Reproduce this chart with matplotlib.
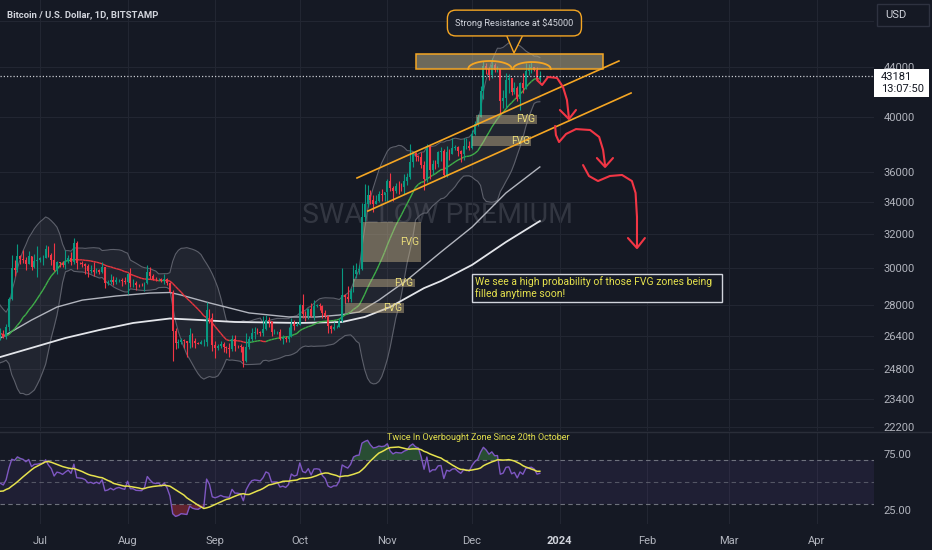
import numpy as np
import pandas as pd
import matplotlib
matplotlib.use("Agg")
import matplotlib.pyplot as plt
import matplotlib.dates as mdates
from matplotlib.collections import LineCollection
from matplotlib.patches import Rectangle, Polygon
from matplotlib.ticker import NullLocator
from matplotlib import font_manager as fm

plt.rcParams['font.family'] = ['Roboto', 'DejaVu Sans']

W, H = 932, 550

# ---------------- data ----------------
# closes before the visible window, only used to seed the SMA / Bollinger / RSI
warmup_start = "2023-05-15"
warmup_close = [27170, 27030, 27400, 26830, 26890, 27120, 26750, 26850, 27230, 26330,
                26480, 26720, 26870, 28080, 27750, 27700, 27220,
                26820, 27250, 27070, 27120, 25740, 27240, 26350, 26500, 26480,
                25850, 25940, 25900, 25920, 25120, 25580, 26330]

# visible daily candles 2023-06-17 .. 2023-12-25 (open = previous close)
close = [
    26510, 26340, 26840, 28310, 30000, 29890, 30690, 30550, 30470, 30270, 30690, 30080, 30450, 30480,
    30590, 30620, 31150, 30770, 30510, 29900, 30350, 30290, 30170, 30410, 30620, 30390, 31470, 30320,
    30290, 30250, 30140, 29860, 29910, 29800, 29910, 29800, 30080, 29180, 29230, 29350, 29210, 29320,
    29360, 29280, 29230,
    29680, 29180, 29180, 29070, 29060, 29050, 29190, 29770, 29580, 29430, 29400, 29420, 29290, 29410,
    29170, 28700, 26620, 26050, 26100, 26190, 26120, 26040, 26430, 26160, 26050, 26010, 26090, 26100,
    27720, 27300, 25930,
    25800, 25870, 25970, 25820, 25780, 25750, 26240, 25900, 25890, 25830, 25160, 25840, 26230, 26540,
    26600, 26570, 26530, 26760, 27210, 27130, 26570, 26580, 26580, 26250, 26300, 26220, 26370, 27020,
    26910, 26970,
    27990, 27500, 27430, 27790, 27410, 27950, 27970, 27940, 27580, 27390, 26870, 26760, 26860, 26860,
    27150, 28520, 28410, 28330, 28720, 29680, 29920, 29990, 33090, 33900, 34500, 34150, 33910, 34090,
    34540, 34500, 34670,
    35440, 34940, 34730, 35080, 35050, 35040, 35430, 35650, 36700, 37310, 37130, 37060, 36490, 35550,
    37880, 36160, 36600, 36590, 37390, 37470, 35810, 37420, 37290, 37730, 37800, 37480, 37240, 37830,
    37860, 37710,
    38690, 39470, 39980, 41980, 44080, 43770, 43290, 44170, 43720, 43790, 41240, 41490, 42890, 43020,
    41940, 42260, 41360, 42660, 42270, 43660, 43860, 43990, 43740, 43010, 43181]
high = [
    26770, 26700, 26990, 28400, 30800, 30500, 31400, 30800, 31050, 30650, 31000, 30700, 30820, 31280,
    30660, 30800, 31380, 31320, 30890, 31500, 30440, 30380, 30430, 31040, 30780, 30970, 31800, 31630,
    30390, 30440, 30320, 30230, 30180, 30390, 30050, 29980, 30340, 30100, 29370, 29680, 29570, 29530,
    29410, 29450, 29530,
    29730, 30000, 29400, 29310, 29110, 29170, 29240, 30220, 30100, 29700, 29540, 29450, 29460, 29660,
    29450, 29220, 28770, 26810, 26260, 26290, 26250, 26140, 26790, 26540, 26300, 26090, 26170, 26230,
    28140, 27760, 27580,
    26140, 25980, 26130, 26100, 25880, 26030, 26430, 26420, 25940, 26000, 25880, 26540, 26390, 26800,
    26830, 26770, 26620, 27410, 27480, 27380, 27150, 26730, 26630, 26720, 26430, 26380, 26830, 27280,
    27200, 27100,
    28060, 28580, 27660, 27830, 28120, 28280, 28040, 28100, 27990, 27730, 27480, 26950, 27100, 26970,
    27280, 30000, 28600, 28990, 28920, 30190, 30330, 30210, 33990, 35200, 35130, 34800, 34470, 34480,
    34750, 34850, 34710,
    35580, 35980, 35050, 35250, 35400, 35270, 35890, 35960, 37960, 37520, 37420, 37230, 37410, 36750,
    37980, 37900, 36850, 36840, 37500, 37760, 37650, 37870, 37650, 38420, 37900, 37830, 37570, 38390,
    38430, 38170,
    38980, 39670, 40200, 42400, 44480, 44300, 44000, 44700, 44340, 44050, 43800, 42100, 43430, 43420,
    43090, 42700, 42430, 42750, 43480, 44290, 44230, 44370, 44000, 43950, 43600]
low = [
    26180, 26280, 26260, 26660, 28280, 29590, 29810, 30260, 30300, 29900, 30230, 29890, 30040, 29520,
    30340, 30170, 30600, 30650, 30210, 29880, 29710, 30060, 30060, 29960, 30290, 30220, 30240, 29970,
    30250, 30080, 29690, 29530, 29760, 29580, 29740, 29660, 29750, 28890, 29070, 29110, 29090, 29130,
    29260, 29040, 29110,
    28600, 28980, 28960, 28800, 28960, 28990, 28720, 29110, 29400, 29350, 29290, 29370, 29260, 29130,
    29070, 28690, 25170, 25770, 25810, 26000, 25810, 25350, 25800, 25860, 25780, 25980, 25970, 25880,
    25910, 27030, 25670,
    25330, 25720, 25800, 25610, 25560, 25380, 25630, 25650, 25800, 25600, 24900, 25130, 25770, 26130,
    26240, 26480, 26410, 26400, 26670, 26860, 26370, 26510, 26500, 26190, 25990, 26100, 26110, 26340,
    26680, 26890,
    26960, 27320, 27170, 27240, 27360, 27190, 27860, 27720, 27300, 27300, 26560, 26560, 26690, 26810,
    26820, 27110, 28120, 28150, 28160, 28710, 29480, 29700, 29890, 32840, 33700, 33880, 33400, 33870,
    34050, 34100, 34080,
    34120, 34750, 34100, 34600, 34550, 34760, 34530, 35130, 35540, 36350, 36750, 36780, 36310, 34780,
    35370, 35520, 35890, 36210, 36400, 36750, 35660, 35650, 36880, 37260, 37590, 37150, 36720, 36880,
    37600, 37530,
    37630, 38650, 39300, 39970, 41410, 43350, 42900, 43080, 43580, 43580, 40230, 40680, 40650, 41830,
    41680, 41770, 41250, 40530, 41820, 42200, 43310, 43440, 43600, 42800, 42760]
last_price = 43181

# long moving averages
ma_light_dates = ['2023-06-17', '2023-06-28', '2023-07-07', '2023-07-16', '2023-07-28', '2023-08-09',
                  '2023-08-16', '2023-08-20', '2023-08-30', '2023-09-13', '2023-09-27', '2023-10-07',
                  '2023-10-15', '2023-10-22', '2023-10-29', '2023-11-08', '2023-11-20', '2023-12-01',
                  '2023-12-13', '2023-12-25']
ma_light = [26290, 27200, 27880, 28250, 28470, 28630, 28660, 28520, 28100, 27570, 27360, 27360,
            27460, 27620, 28250, 29350, 30950, 32450, 34620, 36370]
ma_white_dates = ['2023-06-17', '2023-06-28', '2023-07-10', '2023-07-22', '2023-08-03', '2023-08-16',
                  '2023-08-27', '2023-09-08', '2023-10-01', '2023-10-16', '2023-10-24', '2023-11-02',
                  '2023-11-14', '2023-11-20', '2023-12-01', '2023-12-13', '2023-12-25']
ma_white = [25360, 25800, 26290, 26690, 27050, 27280, 27200, 27100, 27050, 27100, 27360, 27880,
            28900, 29290, 30200, 31540, 32820]

# FVG zones (days after 1 Jul 2023, prices)
fvg_start = [114.4, 110.8, 108.0, 154.4, 153.0]
fvg_end = [134.9, 132.8, 128.9, 176.0, 173.9]
fvg_low = [30370, 28960, 27570, 39460, 37845]
fvg_high = [32760, 29400, 28100, 40137, 38570]

price_ticks = [22200, 23400, 24800, 26400, 28000, 30000, 32000, 34000, 36000, 40000, 44000]
month_starts = ['2023-07-01', '2023-08-01', '2023-09-01', '2023-10-01', '2023-11-01',
                '2023-12-01', '2024-01-01', '2024-02-01', '2024-03-01', '2024-04-01']
month_labels = ['Jul', 'Aug', 'Sep', 'Oct', 'Nov', 'Dec', '2024', 'Feb', 'Mar', 'Apr']

# ---------------- colours ----------------
bg = '#151924'
grid = '#222632'
txt = '#b2b5be'
up_col = '#089981'
dn_col = '#f23645'
orange = '#f5a623'
red_draw = '#f23645'

# ---------------- indicators ----------------
all_close = pd.Series(warmup_close + close, dtype=float)
all_dates = pd.date_range(warmup_start, periods=len(all_close), freq='D')
ax_all = mdates.date2num(all_dates)
nw = len(warmup_close)
xs = ax_all[nw:]

basis = all_close.rolling(20).mean()
dev = all_close.rolling(20).std(ddof=0)
bb_up = basis + 2 * dev
bb_lo = basis - 2 * dev

delta = all_close.diff()
gain = delta.clip(lower=0).ewm(alpha=1 / 14, adjust=False).mean()
loss = (-delta.clip(upper=0)).ewm(alpha=1 / 14, adjust=False).mean()
rsi = 100 - 100 / (1 + gain / loss)
rsi_ma = rsi.rolling(14).mean()

base_num = mdates.date2num(pd.Timestamp('2023-07-01'))


def t(days):
    return base_num + days


# ---------------- figure ----------------
fig = plt.figure(figsize=(W / 100, H / 100), dpi=100, facecolor=bg)
ax = fig.add_axes([0, 119 / H, 874 / W, 431 / H])
ax2 = fig.add_axes([0, 26 / H, 874 / W, 92 / H])
for a in (ax, ax2):
    a.set_facecolor(bg)
    for s in a.spines.values():
        s.set_visible(False)
    a.set_axisbelow(True)

month_x = mdates.date2num(pd.to_datetime(month_starts))

# main pane
ax.set_yscale('log')
ax.set_xlim(t(-14.164), t(295.33))
ax.set_ylim(22036, 49925)
ax.yaxis.tick_right()
ax.set_yticks(price_ticks)
ax.set_yticklabels([str(v) for v in price_ticks])
ax.yaxis.set_minor_locator(NullLocator())
ax.set_xticks(month_x)
ax.tick_params(axis='y', length=0, pad=7, colors=txt, labelsize=8)
ax.tick_params(axis='x', length=0, labelbottom=False)
ax.grid(True, color=grid, lw=0.8)
ax.axhline(48000, color=grid, lw=0.8, zorder=0)

# watermark
names = {f.name for f in fm.fontManager.ttflist}
if 'Liberation Sans Narrow' in names:
    wm_font, wm_size = 'Liberation Sans Narrow', 24.5
else:
    wm_font, wm_size = 'Roboto', 20.5
ax.text(0.5, 0.5, 'SWALLOW PREMIUM', transform=ax.transAxes, ha='center', va='center',
        fontsize=wm_size, family=[wm_font, 'DejaVu Sans'], color='#787b86', alpha=0.3, zorder=0.5)

# bollinger bands
ax.fill_between(ax_all, bb_lo, bb_up, color='#787b86', alpha=0.13, lw=0, zorder=1)
ax.plot(ax_all, bb_up, color='#5d606b', lw=0.8, zorder=1.5)
ax.plot(ax_all, bb_lo, color='#5d606b', lw=0.8, zorder=1.5)

# basis line coloured by slope
pts = np.column_stack([ax_all, basis.values])
segs, cols = [], []
for i in range(1, len(pts)):
    if np.isnan(pts[i - 1, 1]):
        continue
    segs.append([pts[i - 1], pts[i]])
    cols.append('#3fae49' if pts[i, 1] >= pts[i - 1, 1] else '#e8363f')
ax.add_collection(LineCollection(segs, colors=cols, linewidths=1.0, zorder=3.2))

# long MAs
ax.plot(mdates.date2num(pd.to_datetime(ma_light_dates)), ma_light, color='#b2b5be', lw=1.0, zorder=3)
ax.plot(mdates.date2num(pd.to_datetime(ma_white_dates)), ma_white, color='#e3e5ea', lw=1.3, zorder=3)

# candles
c = np.array(close, dtype=float)
o = np.array([warmup_close[-1]] + close[:-1], dtype=float)
hi = np.maximum(np.array(high, dtype=float), np.maximum(o, c))
lo = np.minimum(np.array(low, dtype=float), np.minimum(o, c))
colors = [up_col if cc >= oo else dn_col for oo, cc in zip(o, c)]
ax.vlines(xs, lo, hi, colors=colors, lw=0.8, zorder=4)
ax.bar(xs, np.abs(c - o), bottom=np.minimum(o, c), width=0.66, color=colors, lw=0, zorder=4.1)

# last price line
ax.axhline(last_price, color='#c8cad0', lw=0.9, ls=(0, (1, 1.6)), zorder=4.5)

# FVG zones
for s0, s1, lo_, hi_ in zip(fvg_start, fvg_end, fvg_low, fvg_high):
    ax.add_patch(Rectangle((t(s0), lo_), s1 - s0, hi_ - lo_, facecolor='#c8b48a', alpha=0.45,
                           lw=0, zorder=5))
    ax.text(t(s1 - 0.5), np.sqrt(lo_ * hi_), 'FVG', ha='right', va='center', fontsize=7.3,
            color='#eadc7a', zorder=5.5)

# channel
ax.plot([t(112.25), t(205.0)], [35615, 44468], color=orange, lw=1.2, zorder=5.2)
ax.plot([t(116.1), t(209.3)], [33450, 41848], color=orange, lw=1.2, zorder=5.2)

# resistance zone
ax.add_patch(Rectangle((t(133.1), 43800), 199.4 - 133.1, 45060 - 43800, facecolor='#b5ac8a',
                       alpha=0.55, edgecolor='none', zorder=5.3))
ax.add_patch(Rectangle((t(133.1), 43800), 199.4 - 133.1, 45060 - 43800, facecolor='none',
                       edgecolor=orange, lw=1.1, zorder=5.4))

# double top arcs
for d0, d1, peak in [(151.6, 167.1, 44470), (167.5, 180.9, 44380)]:
    tt = np.linspace(-1, 1, 60)
    mid, half = (d0 + d1) / 2, (d1 - d0) / 2
    yy = np.exp(np.log(43800) + (np.log(peak) - np.log(43800)) * np.sqrt(1 - tt ** 2))
    ax.plot(t(mid + half * tt), yy, color=orange, lw=1.3, zorder=5.6)

# callout
ax.text(t(168.0), 47790, 'Strong Resistance at $45000', ha='center', va='center', fontsize=6.7,
        color='#d1d4dc', zorder=6,
        bbox=dict(boxstyle='round,pad=0.85,rounding_size=0.9', fc='#1a1e29', ec=orange, lw=1.0))
tail = [(t(165.4), 46560), (t(167.85), 45150), (t(170.7), 46560)]
ax.add_patch(Polygon(tail, closed=True, fc='#1a1e29', ec='none', zorder=6.1))
ax.plot([p[0] for p in tail], [p[1] for p in tail], color=orange, lw=1.0, zorder=6.2)

# hand drawn arrows
arrows = [
    ([(176.0, 42890), (177.8, 42490), (179.9, 43140), (183.1, 43060), (185.2, 42330),
      (186.6, 41300), (187.3, 39910)],
     [(184.1, 40520), (187.3, 39830), (189.8, 40520)]),
    ([(182.4, 39310), (182.7, 38640), (183.8, 38130), (186.3, 38720), (189.8, 39080),
      (194.8, 39010), (198.0, 38500), (199.4, 37560), (200.1, 36500)],
     [(197.2, 36990), (200.1, 36370), (202.9, 36990)]),
    ([(192.3, 36500), (194.4, 35750), (197.6, 35410), (201.8, 35750), (206.1, 35820),
      (209.6, 35410), (210.9, 34620), (211.4, 33080), (211.4, 31240)],
     [(208.2, 31780), (211.4, 31180), (214.2, 31780)]),
]
for path, head in arrows:
    ax.plot([t(p[0]) for p in path], [p[1] for p in path], color=red_draw, lw=1.5,
            solid_capstyle='round', solid_joinstyle='round', zorder=6)
    ax.plot([t(p[0]) for p in head], [p[1] for p in head], color=red_draw, lw=1.5,
            solid_capstyle='round', solid_joinstyle='round', zorder=6)

# note box
ax.add_patch(Rectangle((t(153.0), 28150), 241.5 - 153.0, 29680 - 28150, fc=bg, ec='#d1d4dc',
                       lw=1.0, zorder=6))
ax.text(t(154.1), 29540, 'We see a high probability of those FVG zones being\nfilled anytime soon!',
        ha='left', va='top', fontsize=7.5, color='#e6e24e', linespacing=1.1, zorder=6.5)

# ---------------- RSI pane ----------------
ax2.set_xlim(ax.get_xlim())
ax2.set_ylim(11.82, 95.45)
ax2.yaxis.tick_right()
ax2.set_yticks([25, 75])
ax2.set_yticklabels(['25.00', '75.00'])
ax2.set_xticks(month_x)
ax2.set_xticklabels(month_labels)
ax2.tick_params(axis='y', length=0, pad=7, colors=txt, labelsize=8)
ax2.tick_params(axis='x', length=0, pad=9, colors=txt, labelsize=8)
for lbl in ax2.get_xticklabels():
    if lbl.get_text() == '2024':
        lbl.set_fontweight('bold')
        lbl.set_color('#d1d4dc')
ax2.grid(True, axis='x', color=grid, lw=0.8)
ax2.axhspan(30, 70, color='#7e57c2', alpha=0.1, lw=0)
for lvl, al in [(70, 0.9), (50, 0.6), (30, 0.9)]:
    ax2.axhline(lvl, color='#787b86', lw=0.8, ls=(0, (4, 3)), alpha=al)

rv = rsi.values[nw:]
ax2.fill_between(xs, rv, 70, where=rv > 70, interpolate=True, color='#4caf50', alpha=0.35, lw=0)
ax2.fill_between(xs, rv, 30, where=rv < 30, interpolate=True, color='#f23645', alpha=0.35, lw=0)
ax2.plot(xs, rv, color='#7e57c2', lw=1.0, zorder=3)
ax2.plot(xs, rsi_ma.values[nw:], color='#e6e24e', lw=1.1, zorder=3.5)
ax2.text(t(155.3), 90, 'Twice In Overbought Zone Since 20th October', ha='center', va='center',
         fontsize=6.5, color='#e6e24e', zorder=4)

# ---------------- chrome ----------------
def fx(px):
    return px / W


def fy(py):
    return 1 - py / H


fig.add_artist(plt.Line2D([0, 1], [fy(431.5), fy(431.5)], color='#2a2e39', lw=1.0))
fig.text(fx(7), fy(15), 'Bitcoin / U.S. Dollar, 1D, BITSTAMP', ha='left', va='center',
         fontsize=6.8, fontweight='semibold', color='#d1d4dc')
fig.add_artist(Rectangle((fx(877), fy(26)), fx(52), 22 / H, fc=bg, ec='#2e3240', lw=1.0))
fig.text(fx(885), fy(15), 'USD', ha='left', va='center', fontsize=8, color='#d1d4dc')
fig.add_artist(Rectangle((fx(874), fy(97)), fx(55), 28 / H, fc='#ffffff', ec='none'))
fig.text(fx(881), fy(76.5), '43181', ha='left', va='center', fontsize=8, color='#131722')
fig.text(fx(881), fy(89.5), '13:07:50', ha='left', va='center', fontsize=8, color='#131722')

fig.savefig('out.png', dpi=100, facecolor=bg)
